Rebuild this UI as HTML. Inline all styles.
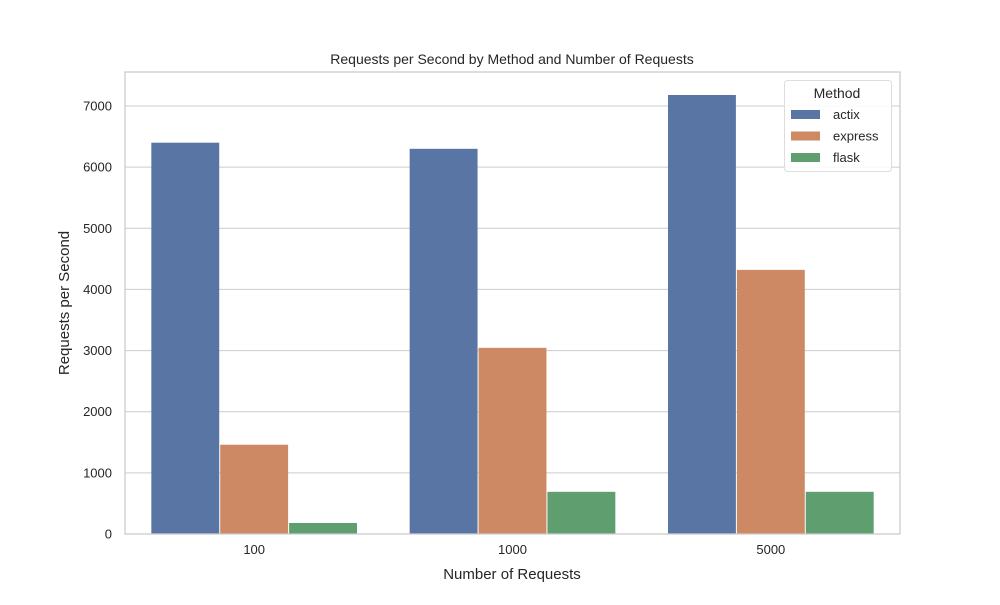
<!DOCTYPE html>
<html><head><meta charset="utf-8"><style>
body{margin:0;background:#fff;font-family:"Liberation Sans","DejaVu Sans",sans-serif}
</style></head><body>
<svg id="chart" width="1000" height="600" xmlns="http://www.w3.org/2000/svg" font-family="Liberation Sans, DejaVu Sans, sans-serif">
<rect width="1000" height="600" fill="#fff"/>
<g id="grid"></g><g id="bars"></g><g id="axes"></g>
<text x="512" y="64" text-anchor="middle" font-size="14" fill="#262626">Requests per Second by Method and Number of Requests</text>
<text x="512" y="579" text-anchor="middle" font-size="15" fill="#262626">Number of Requests</text>
<text transform="translate(69,303) rotate(-90)" text-anchor="middle" font-size="15" fill="#262626">Requests per Second</text>
<g id="legend"></g>
</svg>
<script>
const categories=["100","1000","5000"];
const methods=["actix","express","flask"];
const actix=[6400,6300,7180];
const express=[1460,3045,4320];
const flask=[180,690,690];
const yTicks=[0,1000,2000,3000,4000,5000,6000,7000];
const colors=["#5875a4","#cc8963","#5f9e6e"];
const series=[actix,express,flask];
const L=125,R=900,T=72,B=534,NS="http://www.w3.org/2000/svg";
const y=v=>B-v*(B-106)/7000;
const cw=(R-L)/categories.length, bw=cw*0.8/3;
function mk(t,a,p){const e=document.createElementNS(NS,t);for(const k in a)e.setAttribute(k,a[k]);(p||document.getElementById('chart')).appendChild(e);return e;}
const g=document.getElementById('grid'),bars=document.getElementById('bars'),ax=document.getElementById('axes'),lg=document.getElementById('legend');
yTicks.forEach(t=>{
 const l=mk('line',{x1:L,x2:R,y1:y(t),y2:y(t),stroke:'#cccccc','stroke-width':1},g);
 
 
 const tx=mk('text',{x:L-13,y:y(t)+4.5,'text-anchor':'end','font-size':13,fill:'#262626'},ax);
 tx.textContent=t;
 
 
});
categories.forEach((c,i)=>{
 const cx=L+cw*(i+0.5);
 series.forEach((s,j)=>{
  const x0=cx-1.5*bw+j*bw;
  const r=mk('rect',{x:x0+0.5,y:y(s[i]),width:bw-1,height:B-y(s[i]),fill:colors[j]},bars);
  
  
 });
 const tx=mk('text',{x:cx,y:B+20,'text-anchor':'middle','font-size':13,fill:'#262626'},ax);
 tx.textContent=c;
 
 
});
const fr=mk('rect',{x:L,y:T,width:R-L,height:B-T,fill:'none',stroke:'#cccccc','stroke-width':1.3},ax);


const lb=mk('rect',{x:784.5,y:80.5,width:107,height:91,rx:3,fill:'#fff','fill-opacity':0.85,stroke:'#dddddd'},lg);


const lt=mk('text',{x:837,y:98,'text-anchor':'middle','font-size':14,fill:'#262626'},lg);
lt.textContent='Method';


methods.forEach((m,j)=>{
 const yy=110+j*21.5;
 const p=mk('rect',{x:791,y:yy,width:29,height:9,fill:colors[j]},lg);
 
 
 const t=mk('text',{x:833,y:yy+9,'font-size':13,fill:'#262626'},lg);
 t.textContent=m;
 
 
});
</script>
</body></html>
